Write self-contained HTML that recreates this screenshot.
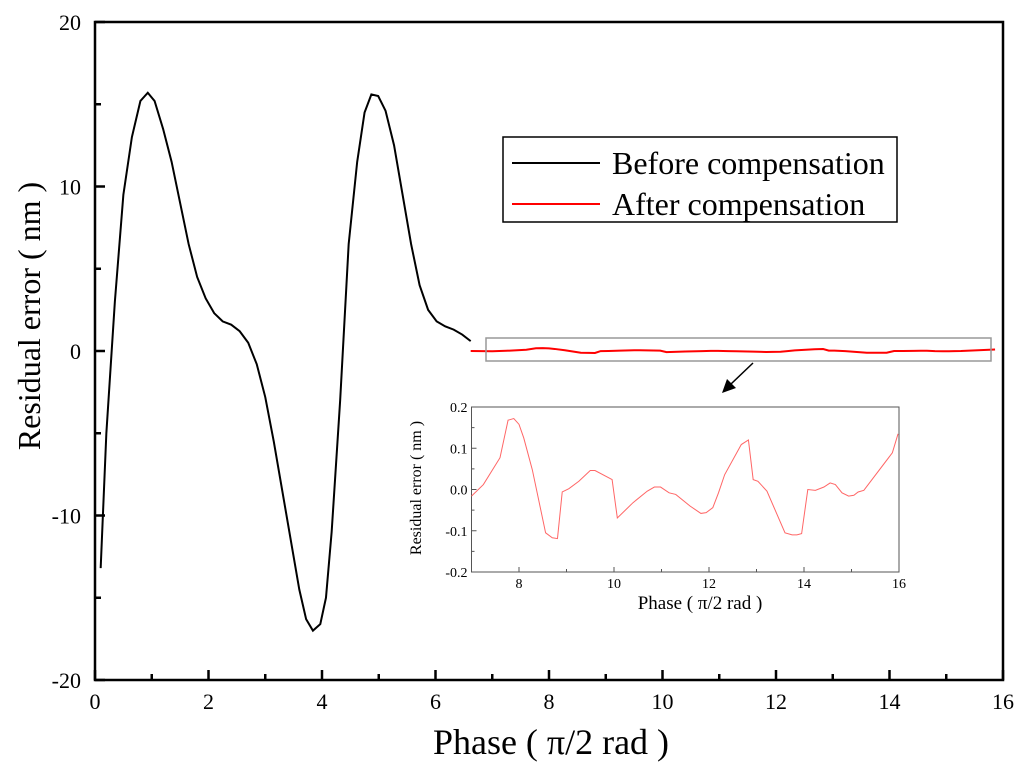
<!DOCTYPE html>
<html><head><meta charset="utf-8"><style>
body{margin:0;background:#fff}
svg{display:block;font-family:"Liberation Serif",serif}
</style></head><body>
<svg id="c" width="1024" height="774" viewBox="0 0 1024 774"></svg>
<script>
const beforeX=[0.1,0.2,0.35,0.5,0.65,0.8,0.93,1.05,1.2,1.35,1.5,1.65,1.8,1.95,2.1,2.25,2.4,2.55,2.7,2.85,3.0,3.15,3.3,3.45,3.6,3.72,3.84,3.97,4.07,4.17,4.32,4.47,4.62,4.75,4.87,4.99,5.12,5.27,5.42,5.57,5.72,5.87,6.02,6.17,6.32,6.47,6.62];
const beforeY=[-13.2,-5,3,9.5,13,15.2,15.7,15.2,13.5,11.5,9,6.5,4.5,3.2,2.3,1.8,1.6,1.2,0.5,-0.8,-2.8,-5.5,-8.5,-11.5,-14.5,-16.3,-17,-16.6,-15,-11,-3,6.5,11.5,14.5,15.6,15.5,14.6,12.5,9.5,6.5,4,2.5,1.8,1.5,1.3,1.0,0.6];
const afterX=[7.0,7.25,7.6,7.77,7.89,8.0,8.1,8.28,8.56,8.7,8.81,8.91,9.05,9.26,9.5,9.6,9.96,10.07,10.4,10.7,10.85,10.98,11.16,11.3,11.6,11.83,11.94,12.08,12.2,12.33,12.68,12.83,12.93,13.03,13.22,13.6,13.75,13.85,13.95,14.08,14.24,14.42,14.55,14.66,14.8,14.94,15.05,15.14,15.26,15.86,15.98];
const afterY=[-0.016,0.012,0.077,0.168,0.172,0.158,0.125,0.048,-0.105,-0.117,-0.119,-0.006,0.002,0.02,0.046,0.046,0.024,-0.069,-0.032,-0.004,0.006,0.006,-0.008,-0.012,-0.04,-0.058,-0.056,-0.044,-0.008,0.036,0.109,0.12,0.024,0.02,-0.004,-0.105,-0.11,-0.11,-0.107,0,-0.002,0.006,0.016,0.012,-0.008,-0.016,-0.014,-0.006,-0.002,0.089,0.135];
const mainXTicks=[0,2,4,6,8,10,12,14,16];
const mainYTicks=[-20,-10,0,10,20];
const insetXTicks=[8,10,12,14,16];
const insetYTicks=[-0.2,-0.1,0.0,0.1,0.2];
const mainRedMaxX=15.9;

const NS="http://www.w3.org/2000/svg";
const svg=document.getElementById('c');
function el(t,a,txt){const e=document.createElementNS(NS,t);for(const k in a)e.setAttribute(k,a[k]);if(txt!==undefined)e.textContent=txt;svg.appendChild(e);return e;}

const L=95,R=1003,T=22,B=680;
const mx=v=>L+(v-0)/16*(R-L), my=v=>B-(v+20)/40*(B-T);
let e=el('rect',{x:L,y:T,width:R-L,height:B-T,fill:'none',stroke:'#000','stroke-width':2.5});

for(let v=0;v<=16;v++){const maj=v%2==0;
 el('line',{x1:mx(v),x2:mx(v),y1:B,y2:B-(maj?10:6),stroke:'#000','stroke-width':2.5});}
for(let v=-20;v<=20;v+=5){const maj=v%10==0;
 el('line',{x1:L,x2:L+(maj?10:6),y1:my(v),y2:my(v),stroke:'#000','stroke-width':2.5});}
mainXTicks.forEach(v=>{e=el('text',{x:mx(v),y:B+29,'text-anchor':'middle','font-size':22},String(v));
 });
mainYTicks.forEach(v=>{e=el('text',{x:81,y:my(v)+8,'text-anchor':'end','font-size':22},String(v));
 });
e=el('text',{x:551,y:754,'text-anchor':'middle','font-size':36},'Phase ( π/2 rad )');

e=el('text',{x:0,y:0,'text-anchor':'middle','font-size':32,transform:'translate(40,316) rotate(-90)'},'Residual error ( nm )');


e=el('polyline',{points:beforeX.map((x,i)=>mx(x)+','+my(beforeY[i])).join(' '),fill:'none',stroke:'#000','stroke-width':2});

const ax=[6.62],ay=[0];
afterX.forEach((x,i)=>{if(x<=mainRedMaxX){ax.push(x);ay.push(afterY[i]);}});
e=el('polyline',{points:ax.map((x,i)=>mx(x)+','+my(ay[i])).join(' '),fill:'none',stroke:'#f00','stroke-width':2});


e=el('rect',{x:486,y:338,width:505,height:23,fill:'none',stroke:'#999','stroke-width':1.5});

e=el('line',{x1:753,y1:363,x2:731,y2:384,stroke:'#000','stroke-width':1.5});

el('polygon',{points:'722,393 727,379 736,388',fill:'#000'});

e=el('rect',{x:503,y:137,width:394,height:85,fill:'#fff',stroke:'#000','stroke-width':1.5});

el('line',{x1:512,x2:600,y1:163,y2:163,stroke:'#000','stroke-width':2});
e=el('text',{x:612,y:174,'font-size':32},'Before compensation');

el('line',{x1:512,x2:600,y1:204,y2:204,stroke:'#f00','stroke-width':2});
e=el('text',{x:612,y:215,'font-size':32},'After compensation');


const iL=471.5,iR=899,iT=407,iB=572;
const ix=v=>iL+(v-7)/9*(iR-iL), iy=v=>iB-(v+0.2)/0.4*(iB-iT);
e=el('rect',{x:iL,y:iT,width:iR-iL,height:iB-iT,fill:'#fff',stroke:'#555','stroke-width':1});

for(let v=7;v<=16;v++){const maj=v%2==0;
 el('line',{x1:ix(v),x2:ix(v),y1:iB,y2:iB-(maj?5:3),stroke:'#555'});}
for(let k=-4;k<=4;k++){const v=k*0.05,maj=k%2==0;
 el('line',{x1:iL,x2:iL+(maj?5:3),y1:iy(v),y2:iy(v),stroke:'#555'});}
insetXTicks.forEach(v=>{e=el('text',{x:ix(v),y:iB+16,'text-anchor':'middle','font-size':14},String(v));
 });
insetYTicks.forEach(v=>{e=el('text',{x:iL-4,y:iy(v)+5,'text-anchor':'end','font-size':14},v.toFixed(1));
 });
e=el('text',{x:700,y:609,'text-anchor':'middle','font-size':19},'Phase ( π/2 rad )');

e=el('text',{x:0,y:0,'text-anchor':'middle','font-size':16,transform:'translate(421,488) rotate(-90)'},'Residual error ( nm )');

e=el('polyline',{points:afterX.map((x,i)=>ix(x)+','+iy(afterY[i])).join(' '),fill:'none',stroke:'#f66','stroke-width':1});

</script>
</body></html>
